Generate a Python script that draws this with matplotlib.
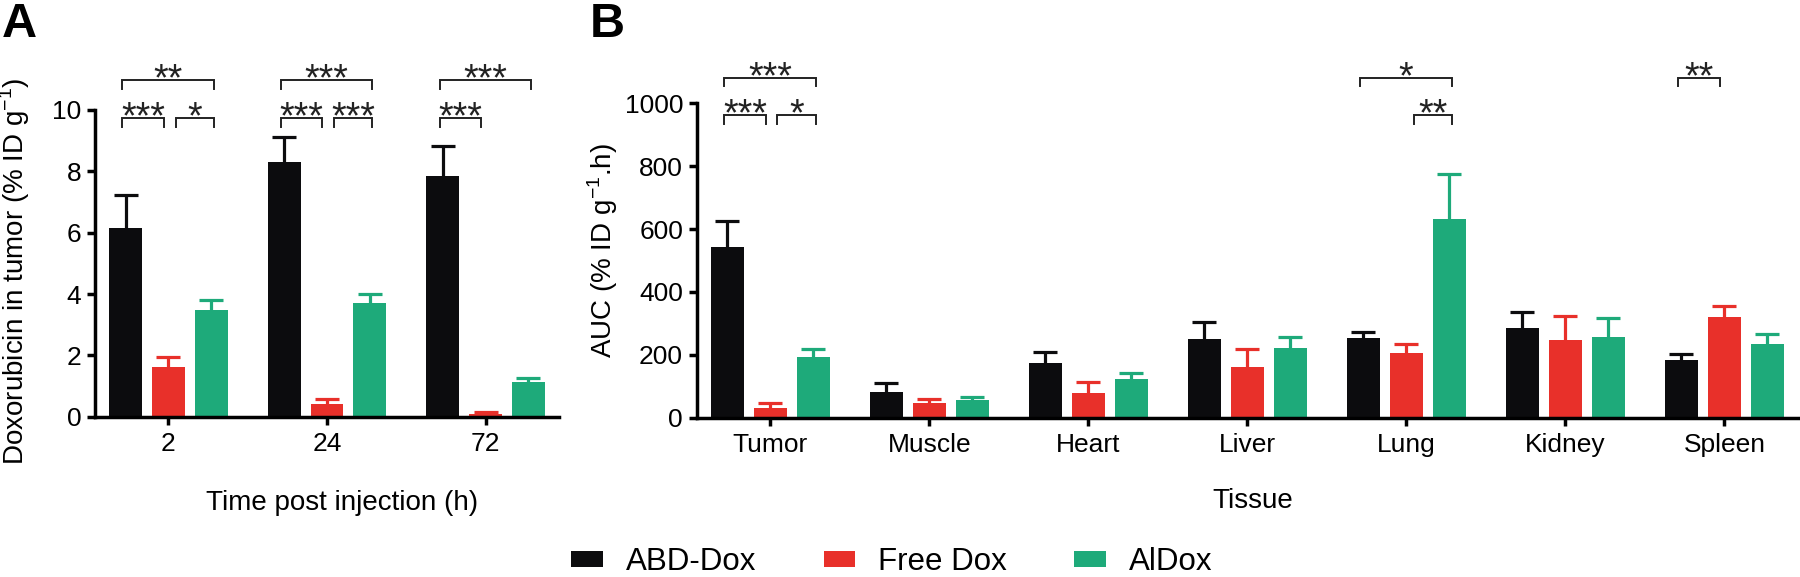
import numpy as np
import matplotlib
matplotlib.use("Agg")
import matplotlib.pyplot as plt
from matplotlib.patches import Patch

plt.rcParams['font.family'] = ['Liberation Sans', 'DejaVu Sans']
plt.rcParams['mathtext.fontset'] = 'custom'
plt.rcParams['mathtext.rm'] = 'Liberation Sans'

# ---------------- data ----------------
series_names = ['ABD-Dox', 'Free Dox', 'AlDox']
series_colors = ['#0c0c0e', '#e8302a', '#1eaa7a']

time_labels = ['2', '24', '72']
abd_a = [6.16, 8.29, 7.85]
abd_a_err = [1.07, 0.82, 0.99]
free_a = [1.63, 0.43, 0.08]
free_a_err = [0.33, 0.15, 0.06]
aldox_a = [3.48, 3.70, 1.14]
aldox_a_err = [0.34, 0.29, 0.11]

tissues = ['Tumor', 'Muscle', 'Heart', 'Liver', 'Lung', 'Kidney', 'Spleen']
abd_b = [543, 83, 173, 251, 255, 284, 183]
abd_b_err = [83, 26, 37, 52, 18, 53, 20]
free_b = [32, 48, 77, 162, 207, 247, 321]
free_b_err = [16, 11, 38, 55, 27, 76, 34]
aldox_b = [194, 56, 122, 223, 631, 258, 236]
aldox_b_err = [23, 11, 19, 33, 144, 60, 31]

# significance: (group index, series i, series j, label, level)
sig_a = [(0, 0, 2, '**', 'hi'), (0, 0, 1, '***', 'lo'), (0, 1, 2, '*', 'lo'),
         (1, 0, 2, '***', 'hi'), (1, 0, 1, '***', 'lo'), (1, 1, 2, '***', 'lo'),
         (2, 0, 2, '***', 'hi'), (2, 0, 1, '***', 'lo')]
sig_a_levels = {'hi': 10.97, 'lo': 9.74}
sig_b = [(0, 0, 2, '***', 'hi'), (0, 0, 1, '***', 'lo'), (0, 1, 2, '*', 'lo'),
         (4, 0, 2, '*', 'hi'), (4, 1, 2, '**', 'lo'),
         (6, 0, 1, '**', 'hi')]
sig_b_levels = {'hi': 1082, 'lo': 962}

# ---------------- figure ----------------
W, H = 1800, 577
fig = plt.figure(figsize=(18, 5.77), dpi=100)

def px_axes(l, r, t, b):
    return fig.add_axes([l / W, 1 - b / H, (r - l) / W, (b - t) / H])

axA = px_axes(95, 559, 110, 416.7)
axB = px_axes(696.7, 1798, 103.3, 417.7)

STEP = 0.27
BW = 0.207
LW = 2.5

def draw_bars(ax, ncat, vals, errs):
    x = np.arange(ncat)
    for k, (v, e, c) in enumerate(zip(vals, errs, series_colors)):
        xs = x + (k - 1) * STEP
        ax.bar(xs, v, width=BW, color=c, edgecolor='none', zorder=2)
        v = np.asarray(v, float)
        e = np.asarray(e, float)
        _, caps, _ = ax.errorbar(xs, v, yerr=[np.zeros_like(e), e], fmt='none',
                                 ecolor=c, elinewidth=2.3, capsize=8.3,
                                 capthick=2.3, zorder=3)
        for cl in caps:
            if np.allclose(cl.get_ydata(), v):
                cl.set_visible(False)
    ax.set_xticks(x)
    ax.set_xlim(-0.463, ncat - 1 + 0.463)

def style(ax):
    for s in ['top', 'right']:
        ax.spines[s].set_visible(False)
    for s in ['left', 'bottom']:
        ax.spines[s].set_linewidth(LW)
    ax.tick_params(axis='both', length=5.8, width=LW, labelsize=19, color='black')
    ax.tick_params(axis='x', pad=5)
    ax.tick_params(axis='y', pad=4)

def brackets(ax, sig, levels, drop):
    for g, i, j, lab, lev in sig:
        ci = g + (i - 1) * STEP
        cj = g + (j - 1) * STEP
        xl = ci + (0.045 if i == 1 else -0.02)
        xr = cj + (-0.03 if j == 1 else 0.015)
        y = levels[lev]
        ax.plot([xl, xl, xr, xr], [y - drop, y, y, y - drop], color='#222222',
                lw=1.4, clip_on=False, solid_joinstyle='miter', zorder=4)
        ax.annotate(lab, xy=((xl + xr) / 2, y), xytext=(0, -7.5),
                    textcoords='offset points', ha='center', va='baseline',
                    fontsize=27, color='#222222', annotation_clip=False)

# Panel A
draw_bars(axA, len(time_labels), [abd_a, free_a, aldox_a],
          [abd_a_err, free_a_err, aldox_a_err])
axA.set_xticklabels(time_labels)
axA.set_ylim(0, 10)
axA.set_yticks(np.arange(0, 11, 2))
style(axA)
axA.set_ylabel(r'Doxorubicin in tumor (% ID g$^{\mathregular{-1}}$)', fontsize=20, va='center')
axA.yaxis.set_label_coords(-0.172, 0.475)
axA.set_xlabel('Time post injection (h)', fontsize=20, va='baseline')
axA.xaxis.set_label_coords(0.532, -0.304)
brackets(axA, sig_a, sig_a_levels, 0.29)

# Panel B
draw_bars(axB, len(tissues), [abd_b, free_b, aldox_b],
          [abd_b_err, free_b_err, aldox_b_err])
axB.set_xticklabels(tissues)
axB.set_ylim(0, 1000)
axB.set_yticks(np.arange(0, 1001, 200))
style(axB)
axB.set_ylabel(r'AUC (% ID g$^{\mathregular{-1}}$.h)', fontsize=20, va='center')
axB.yaxis.set_label_coords(-0.085, 0.533)
axB.set_xlabel('Tissue', fontsize=20, va='baseline')
axB.xaxis.set_label_coords(0.505, -0.287)
brackets(axB, sig_b, sig_b_levels, 28)

# panel letters
fig.text(2 / W, 1 - 37 / H, 'A', fontsize=35, fontweight='bold', ha='left', va='baseline')
fig.text(590 / W, 1 - 37 / H, 'B', fontsize=35, fontweight='bold', ha='left', va='baseline')

# legend
handles = [Patch(facecolor=c, edgecolor='none') for c in series_colors]
fig.legend(handles, series_names, loc='center', bbox_to_anchor=(892 / W, 1 - 562 / H),
           ncol=3, frameon=False, fontsize=22.5, handlelength=1.0, handleheight=0.42,
           handletextpad=0.75, columnspacing=2.15, borderpad=0, borderaxespad=0)

fig.savefig('out.png', dpi=100)
